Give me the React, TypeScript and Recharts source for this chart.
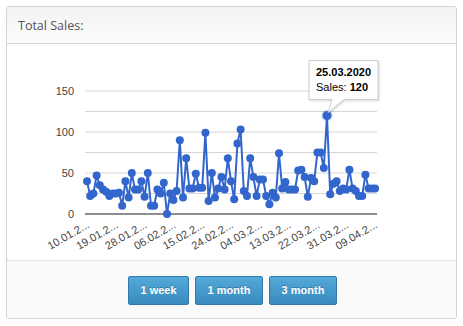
import React from "react";
import {
  CartesianGrid,
  LineChart,
  Line,
  ReferenceDot,
  XAxis,
  YAxis,
} from "recharts";

// one label per day, 10.01.2020 .. 09.04.2020
const dates = [
  "10.01.2020", "11.01.2020", "12.01.2020", "13.01.2020", "14.01.2020", "15.01.2020", "16.01.2020",
  "17.01.2020", "18.01.2020", "19.01.2020", "20.01.2020", "21.01.2020", "22.01.2020", "23.01.2020",
  "24.01.2020", "25.01.2020", "26.01.2020", "27.01.2020", "28.01.2020", "29.01.2020", "30.01.2020",
  "31.01.2020", "01.02.2020", "02.02.2020", "03.02.2020", "04.02.2020", "05.02.2020", "06.02.2020",
  "07.02.2020", "08.02.2020", "09.02.2020", "10.02.2020", "11.02.2020", "12.02.2020", "13.02.2020",
  "14.02.2020", "15.02.2020", "16.02.2020", "17.02.2020", "18.02.2020", "19.02.2020", "20.02.2020",
  "21.02.2020", "22.02.2020", "23.02.2020", "24.02.2020", "25.02.2020", "26.02.2020", "27.02.2020",
  "28.02.2020", "29.02.2020", "01.03.2020", "02.03.2020", "03.03.2020", "04.03.2020", "05.03.2020",
  "06.03.2020", "07.03.2020", "08.03.2020", "09.03.2020", "10.03.2020", "11.03.2020", "12.03.2020",
  "13.03.2020", "14.03.2020", "15.03.2020", "16.03.2020", "17.03.2020", "18.03.2020", "19.03.2020",
  "20.03.2020", "21.03.2020", "22.03.2020", "23.03.2020", "24.03.2020", "25.03.2020", "26.03.2020",
  "27.03.2020", "28.03.2020", "29.03.2020", "30.03.2020", "31.03.2020", "01.04.2020", "02.04.2020",
  "03.04.2020", "04.04.2020", "05.04.2020", "06.04.2020", "07.04.2020", "08.04.2020", "09.04.2020",
];

const sales = [
  40, 22, 25, 47, 35, 30, 27, 22, 25, 25, 26, 10, 40, 20,
  50, 30, 30, 40, 21, 50, 10, 10, 30, 25, 38, 0, 25, 17,
  28, 90, 20, 68, 31, 31, 49, 32, 32, 99, 16, 50, 20, 31,
  45, 30, 68, 40, 18, 86, 103, 28, 22, 68, 45, 22, 42, 42,
  22, 12, 26, 20, 74, 31, 39, 30, 30, 30, 53, 54, 45, 21,
  44, 40, 75, 75, 56, 120, 24, 37, 40, 28, 31, 30, 54, 31,
  28, 22, 22, 48, 31, 31, 31,
];

const yTicks = [0, 25, 50, 75, 100, 125, 150];
const ranges = ["1 week", "1 month", "3 month"];
const focusDate = "25.03.2020";
const focusValue = 120;

const data = dates.map((date, i) => ({ date, sales: sales[i] }));

const font = "Arial, 'Liberation Sans', sans-serif";

function DateTick({ x, y, payload }: any) {
  const label = String(payload.value).slice(0, 7) + "...";
  return (
    <g transform={`translate(${x + 3},${y + 5})`}>
      <text
        textAnchor="end"
        transform="rotate(-30)"
        fontSize={11}
        fontFamily={font}
        fill="#444"
      >
        {label}
      </text>
    </g>
  );
}

function FocusPoint({ cx, cy }: any) {
  const left = cx - 18;
  const top = cy - 55;
  return (
    <g>
      <circle cx={cx} cy={cy} r={6} fill="#3366cc" opacity={0.18} />
      <circle cx={cx} cy={cy} r={4.5} fill="#3366cc" />
      <path
        d={`M${left},${top} h69 v39 h-34 L${cx + 1},${cy - 3} L${cx + 5},${top + 39} h-${cx + 5 - left} Z`}
        fill="#fff"
        stroke="#ccc"
        style={{ filter: "drop-shadow(1px 1px 1px rgba(0,0,0,0.15))" }}
      />
      <text x={left + 7} y={top + 15} fontSize={11} fontFamily={font} fontWeight="bold" fill="#000">
        {focusDate}
      </text>
      <text x={left + 7} y={top + 30} fontSize={11} fontFamily={font} fill="#000">
        Sales: <tspan fontWeight="bold">{focusValue}</tspan>
      </text>
    </g>
  );
}

export default function App() {
  return (
    <div style={{ position: "absolute", left: 0, top: 0, width: 463, height: 326, background: "#fff" }}>
      <div
        style={{
          position: "absolute",
          left: 6,
          top: 6,
          width: 449,
          height: 311,
          border: "1px solid #d4d4d4",
          borderRadius: 3,
          overflow: "hidden",
          background: "#fff",
        }}
      >
        <div
          style={{
            height: 36,
            borderBottom: "1px solid #d4d4d4",
            background: "linear-gradient(to bottom, #f2f2f2, #fdfdfd)",
            fontFamily: "'Open Sans', sans-serif",
            fontSize: 12.5,
            color: "#555",
            lineHeight: "37px",
            paddingLeft: 11,
          }}
        >
          Total Sales:
        </div>
        <div style={{ height: 216 }}>
          <LineChart
            width={449}
            height={216}
            data={data}
            margin={{ top: 47, right: 79, bottom: 0, left: 0 }}
          >
            <CartesianGrid vertical={false} stroke="#d6d6d6" />
            <XAxis
              dataKey="date"
              interval={8}
              tickLine={false}
              axisLine={{ stroke: "#333" }}
              height={46}
              padding={{ left: 2, right: 2 }}
              tick={<DateTick />}
            />
            <YAxis
              domain={[0, 150]}
              ticks={yTicks}
              width={78}
              tickLine={false}
              axisLine={false}
              tickMargin={5}
              tickFormatter={(v: number) => (v % 50 === 0 ? String(v) : "")}
              tick={{ fontSize: 11, fill: "#444", fontFamily: font }}
            />
            <Line
              dataKey="sales"
              stroke="#3366cc"
              strokeWidth={2}
              dot={{ r: 4, fill: "#3366cc", stroke: "none" }}
              activeDot={false}
              isAnimationActive={false}
            />
            <ReferenceDot
              x={focusDate}
              y={focusValue}
              r={5}
              ifOverflow="visible"
              shape={<FocusPoint />}
            />
          </LineChart>
        </div>
        <div
          style={{
            height: 58,
            borderTop: "1px dotted #ccc",
            background: "#fafafa",
            display: "flex",
            justifyContent: "center",
            alignItems: "center",
            gap: 6,
            paddingLeft: 2,
          }}
        >
          {ranges.map((r, i) => (
            <div
              key={r}
              style={{
                width: i === 0 ? 59 : 66,
                height: 27,
                border: "1px solid #2f7bab",
                borderRadius: 2,
                background: "linear-gradient(to bottom, #53a9d8, #3a8bbf)",
                color: "#fff",
                fontFamily: font,
                fontWeight: "bold",
                fontSize: 11,
                lineHeight: "27px",
                textAlign: "center",
                textShadow: "0 -1px 0 rgba(0,0,0,0.25)",
              }}
            >
              {r}
            </div>
          ))}
        </div>
      </div>
    </div>
  );
}
